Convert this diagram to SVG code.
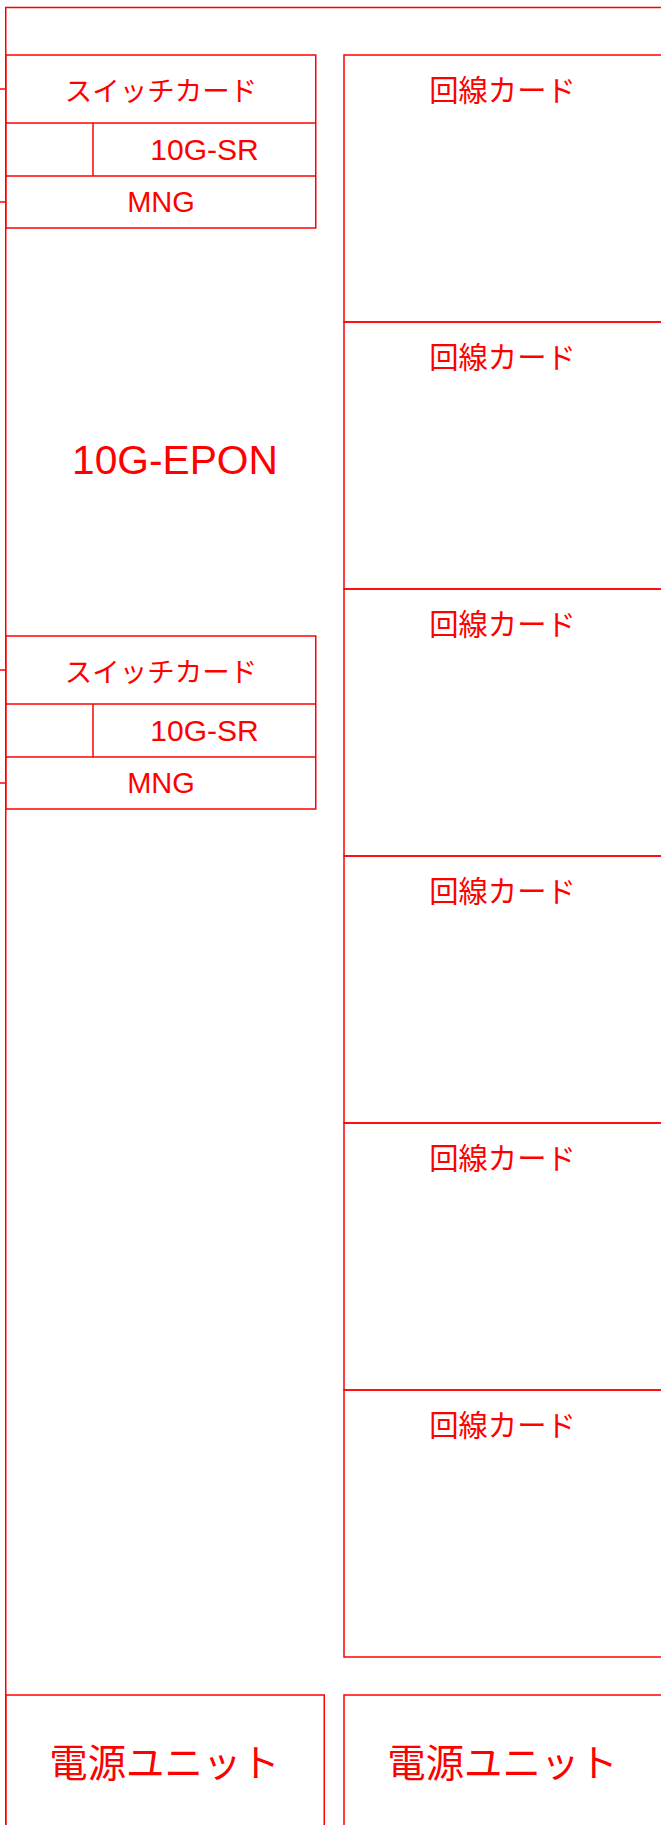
<svg xmlns="http://www.w3.org/2000/svg" width="661" height="1825" viewBox="0 0 661 1825">
<style>
.b{fill:none;stroke:#ff0000;stroke-width:1.5}
.j{font-family:"Noto Sans CJK JP","Noto Sans CJK SC",sans-serif;fill:#ff0000;text-anchor:middle}
.l{font-family:"Liberation Sans",Arial,sans-serif;fill:#ff0000;text-anchor:middle}
.sw{font-size:27.5px}
.sr{font-size:30px}
.mn{font-size:29px}
.lc{font-size:29.3px}
.pw{font-size:38.4px}
</style>
<rect width="661" height="1825" fill="#ffffff"/>
<g id="chassis">
<rect class="b" x="5.75" y="7.5" width="700" height="1900"/>
<text class="l" x="175" y="474" font-size="40.7">10G-EPON</text>
</g>
<g id="switch1">
<rect class="b" x="5.75" y="55" width="310" height="173"/>
<line class="b" x1="5.75" y1="123" x2="315.75" y2="123"/>
<line class="b" x1="5.75" y1="176" x2="315.75" y2="176"/>
<line class="b" x1="93" y1="123" x2="93" y2="176"/>
<text class="j sw" x="161" y="100.5">スイッチカード</text>
<text class="l sr" x="204.5" y="160">10G-SR</text>
<text class="l mn" x="161" y="211.5">MNG</text>
</g>
<g id="switch2">
<rect class="b" x="5.75" y="636" width="310" height="173"/>
<line class="b" x1="5.75" y1="704" x2="315.75" y2="704"/>
<line class="b" x1="5.75" y1="757" x2="315.75" y2="757"/>
<line class="b" x1="93" y1="704" x2="93" y2="757"/>
<text class="j sw" x="161" y="681.5">スイッチカード</text>
<text class="l sr" x="204.5" y="741">10G-SR</text>
<text class="l mn" x="161" y="792.5">MNG</text>
</g>
<g id="line1"><rect class="b" x="344" y="55" width="400" height="267"/><text class="j lc" x="502.5" y="100.5">回線カード</text></g>
<g id="line2"><rect class="b" x="344" y="322" width="400" height="267"/><text class="j lc" x="502.5" y="367.5">回線カード</text></g>
<g id="line3"><rect class="b" x="344" y="589" width="400" height="267"/><text class="j lc" x="502.5" y="634.5">回線カード</text></g>
<g id="line4"><rect class="b" x="344" y="856" width="400" height="267"/><text class="j lc" x="502.5" y="901.5">回線カード</text></g>
<g id="line5"><rect class="b" x="344" y="1123" width="400" height="267"/><text class="j lc" x="502.5" y="1168.5">回線カード</text></g>
<g id="line6"><rect class="b" x="344" y="1390" width="400" height="267"/><text class="j lc" x="502.5" y="1435.5">回線カード</text></g>
<g id="power1"><rect class="b" x="5.75" y="1695" width="318.5" height="200"/><text class="j pw" x="164.5" y="1777">電源ユニット</text></g>
<g id="power2"><rect class="b" x="344" y="1695" width="400" height="200"/><text class="j pw" x="502.5" y="1777">電源ユニット</text></g>
<g id="connectors">
<line class="b" x1="0" y1="89" x2="5.75" y2="89"/>
<line class="b" x1="0" y1="202" x2="5.75" y2="202"/>
<line class="b" x1="0" y1="670" x2="5.75" y2="670"/>
<line class="b" x1="0" y1="783" x2="5.75" y2="783"/>
</g>
</svg>
